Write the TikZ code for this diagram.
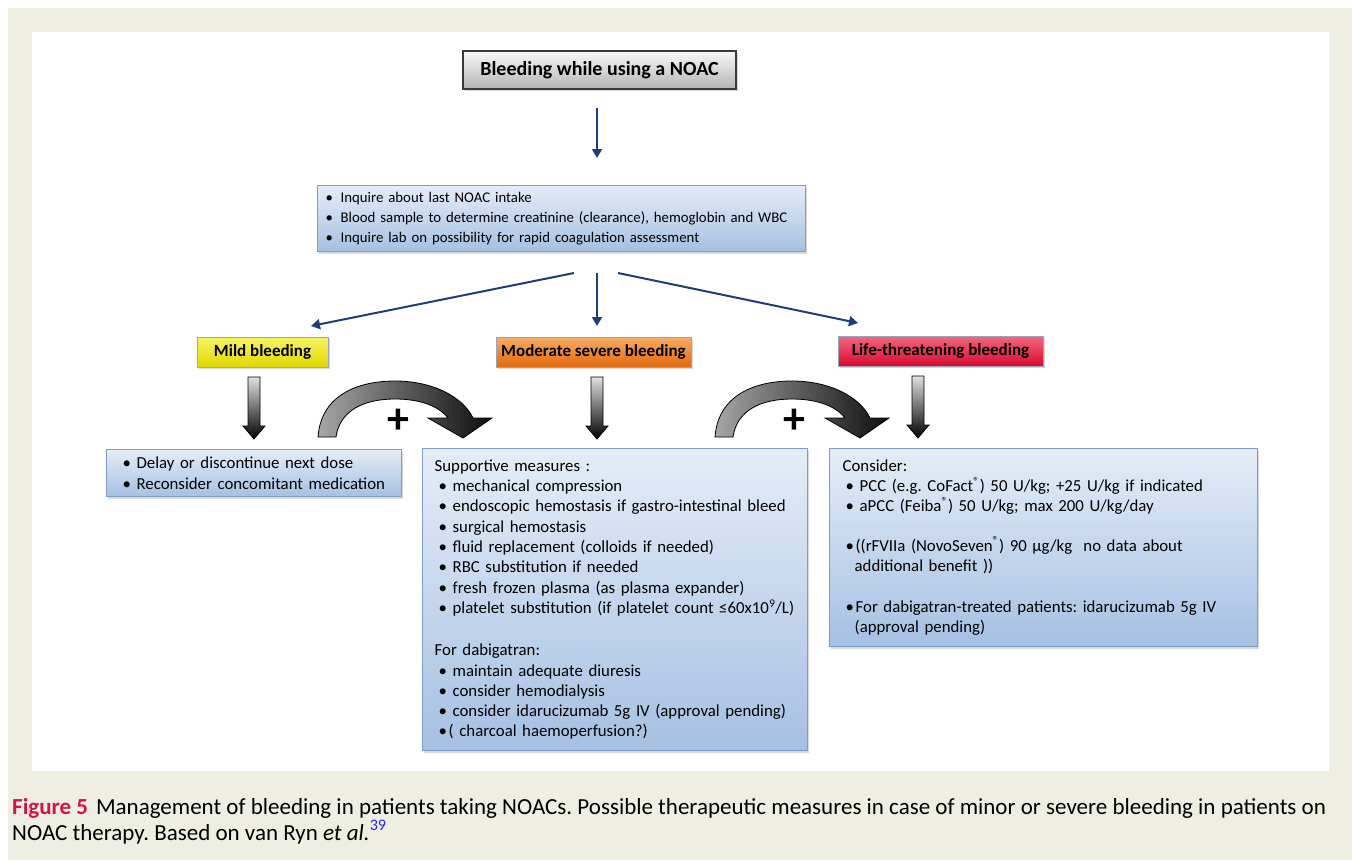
\documentclass[tikz,border=0pt]{standalone}
\usepackage{fontspec}
\setmainfont{Carlito}
\usetikzlibrary{shadows,arrows.meta}
\definecolor{beige}{HTML}{EEEEE3}
\definecolor{bluetop}{HTML}{E4EDF8}
\definecolor{bluebot}{HTML}{A6C0E2}
\definecolor{blueborder}{HTML}{7C9CC9}
\definecolor{titletop}{HTML}{F8F8F8}
\definecolor{titlebot}{HTML}{B4B4B4}
\definecolor{titleborder}{HTML}{3A3A3A}
\definecolor{yeltop}{HTML}{F7F465}
\definecolor{yelbot}{HTML}{E2D800}
\definecolor{orgtop}{HTML}{F8AE66}
\definecolor{orgbot}{HTML}{E2680C}
\definecolor{redtop}{HTML}{F2687E}
\definecolor{redbot}{HTML}{DA0A30}
\definecolor{labelborder}{HTML}{9AA6BC}
\definecolor{navy}{HTML}{1F3D7A}
\definecolor{figred}{HTML}{D2144A}
\definecolor{supblue}{HTML}{2828E0}
\newcommand\mybul[1][14pt]{\makebox[#1][l]{•}}
\frenchspacing
\begin{document}
\begin{tikzpicture}[x=1pt,y=-1pt,
  shadowed/.style={drop shadow={shadow xshift=1.5pt,shadow yshift=-2pt,opacity=0.3}},
  bluebox/.style={shadowed,draw=blueborder,line width=1.3pt,top color=bluetop,bottom color=bluebot,
    anchor=north west,align=left,inner ysep=0pt},
  titlebox/.style={shadowed,draw=titleborder,line width=1.3pt,top color=titletop,bottom color=titlebot,
    minimum width=273pt,minimum height=38pt,inner sep=0pt,font=\bfseries\fontsize{20}{24}\selectfont},
  lab/.style={shadowed,draw=labelborder,line width=1pt,minimum height=30pt,inner sep=0pt,
    font=\bfseries\fontsize{17}{20}\selectfont},
  navyarrow/.style={draw=navy,line width=2pt,-{Triangle[width=10pt,length=9pt]}},
  bodytext/.style={font=\fontsize{16.8}{20.3}\selectfont},
  grayarr/.pic={\path[draw=black,line width=0.8pt,top color=black!12,bottom color=black]
    (-6,0) -- (6,0) -- (6,49) -- (11,49) -- (0,62) -- (-11,49) -- (-6,49) -- cycle;},
  curvarr/.pic={\path[draw=black,line width=0.8pt,left color=black!35,right color=black!95]
    (0,0) .. controls (3,-42) and (40,-56) .. (77,-56)
    .. controls (115,-56) and (145,-40) .. (155,-19)
    -- (174,-19) -- (145,1) -- (110,-19) -- (130,-19)
    .. controls (120,-32) and (100,-38) .. (77,-38)
    .. controls (48,-38) and (22,-28) .. (18,0) -- cycle;},
  plus/.style={font=\bfseries\fontsize{44}{44}\selectfont,inner sep=0pt}
]
\useasboundingbox (0,0) rectangle (1352,860);
\fill[white] (0,0) rectangle (1352,860);
\fill[beige] (8,8) rectangle (1352,860);
\fill[white] (32,32) rectangle (1329,771);

% top
\node[titlebox] (title) at (599.5,70) {Bleeding while using a NOAC};
\node[bluebox,minimum width=488pt,minimum height=66pt,text width=472pt,inner xsep=8pt,
  font=\fontsize{14.8}{20}\selectfont] (info) at (317,185)
  {\mybul[15pt]Inquire about last NOAC intake\\
   \mybul[15pt]Blood sample to determine creatinine (clearance), hemoglobin and WBC\\
   \mybul[15pt]Inquire lab on possibility for rapid coagulation assessment};

\coordinate (a1) at (597,108);
\coordinate (a2) at (597,158);
\draw[navyarrow] (a1) -- (a2);

% severity labels
\node[lab,top color=yeltop,bottom color=yelbot,minimum width=131pt] (mild) at (262.5,352) {Mild bleeding};
\node[lab,top color=orgtop,bottom color=orgbot,minimum width=195pt] (moder) at (593.5,352) {Moderate severe bleeding};
\node[lab,top color=redtop,bottom color=redbot,minimum width=205pt] (life) at (940.5,351) {Life-threatening bleeding};

\coordinate (fL) at (574,273); \coordinate (tL) at (311,326);
\coordinate (fM) at (597,273); \coordinate (tM) at (597,326);
\coordinate (fR) at (618,273); \coordinate (tR) at (858,323);
\draw[navyarrow] (fL) -- (tL);
\draw[navyarrow] (fM) -- (tM);
\draw[navyarrow] (fR) -- (tR);

% bottom boxes
\node[bluebox,bodytext,minimum width=295pt,minimum height=47pt,text width=263pt,inner xsep=16pt] (mildbox) at (106,449)
  {\mybul Delay or discontinue next dose\\
   \mybul Reconsider concomitant medication};

\node[bluebox,bodytext,minimum width=385pt,minimum height=302pt,text width=361pt,inner xsep=12pt] (modbox) at (422,448)
  {Supportive measures :\\
   \hspace*{4pt}\mybul mechanical compression\\
   \hspace*{4pt}\mybul endoscopic hemostasis if gastro-intestinal bleed\\
   \hspace*{4pt}\mybul surgical hemostasis\\
   \hspace*{4pt}\mybul fluid replacement (colloids if needed)\\
   \hspace*{4pt}\mybul RBC substitution if needed\\
   \hspace*{4pt}\mybul fresh frozen plasma (as plasma expander)\\
   \hspace*{4pt}\mybul platelet substitution (if platelet count ≤60x10\textsuperscript{9}/L)\\[22pt]
   For dabigatran:\\
   \hspace*{4pt}\mybul maintain adequate diuresis\\
   \hspace*{4pt}\mybul consider hemodialysis\\
   \hspace*{4pt}\mybul consider idarucizumab 5g IV (approval pending)\\
   \hspace*{4pt}\mybul[10pt]( charcoal haemoperfusion?)};

\node[bluebox,bodytext,minimum width=428pt,minimum height=198pt,text width=402pt,inner xsep=13pt] (lifebox) at (829,448)
  {Consider:\\
   \hspace*{3pt}\mybul PCC (e.g. CoFact\textsuperscript{®}) 50 U/kg; +25 U/kg if indicated\\
   \hspace*{3pt}\mybul aPCC (Feiba\textsuperscript{®}) 50 U/kg; max 200 U/kg/day\\[19pt]
   \hspace*{3pt}\mybul[10pt]((rFVIIa (NovoSeven\textsuperscript{®}) 90 μg/kg\ \ no data about\\
   \hspace*{12pt}additional benefit ))\\[21pt]
   \hspace*{3pt}\mybul[10pt]For dabigatran-treated patients: idarucizumab 5g IV\\
   \hspace*{12pt}(approval pending)};

% gray arrows and curved arrows
\pic at (254,377) {grayarr};
\pic at (597,377) {grayarr};
\pic at (918,376) {grayarr};
\pic at (318,437) {curvarr};
\pic at (715,437) {curvarr};
\node[plus] (p1) at (398,421) {+};
\node[plus] (p2) at (794,421) {+};

% caption
\node[anchor=base west,inner sep=0pt,font=\fontsize{23}{26}\selectfont] (cap1) at (12,814)
  {\textcolor{figred}{\bfseries Figure 5}\hspace{8pt}Management of bleeding in patients taking NOACs. Possible therapeutic measures in case of minor or severe bleeding in patients on};
\node[anchor=base west,inner sep=0pt,font=\fontsize{23}{26}\selectfont] (cap2) at (12,840)
  {NOAC therapy. Based on van Ryn \textit{et al.}\textsuperscript{\textcolor{supblue}{39}}};
\end{tikzpicture}
\end{document}
